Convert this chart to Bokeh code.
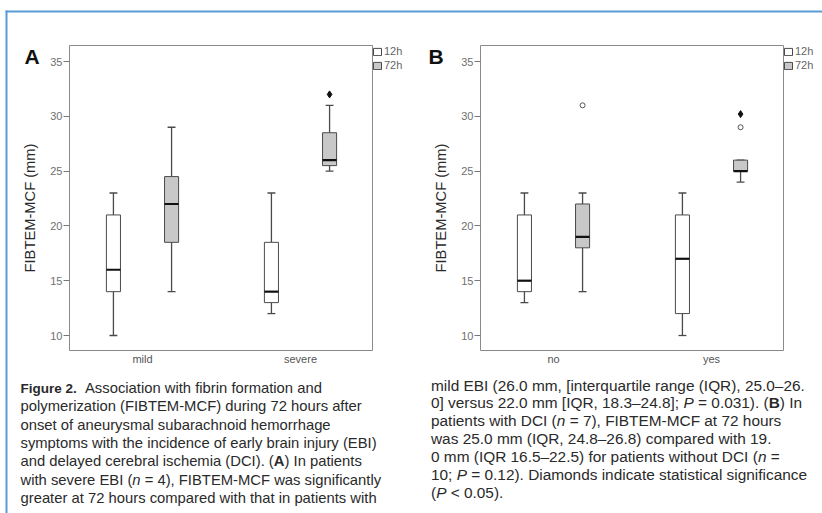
from bokeh.plotting import figure
from bokeh.models import (Range1d, FixedTicker, Legend, LegendItem, LinearAxis,
                          ColumnDataSource)
from bokeh.core.properties import value
from bokeh.embed import file_html
from bokeh.resources import INLINE

FONT = "Liberation Sans"

# ---------------- data ----------------
cats_a = ["mild", "severe"]
a12_low = [10, 12]
a12_q1 = [14, 13]
a12_med = [16, 14]
a12_q3 = [21, 18.5]
a12_high = [23, 23]
a72_low = [14, 25]
a72_q1 = [18.5, 25.5]
a72_med = [22, 26]
a72_q3 = [24.5, 28.5]
a72_high = [29, 31]
a72_outlier_cat = []
a72_outlier_val = []
a72_diamond_cat = [1]
a72_diamond_val = [32]

cats_b = ["no", "yes"]
b12_low = [13, 10]
b12_q1 = [14, 12]
b12_med = [15, 17]
b12_q3 = [21, 21]
b12_high = [23, 23]
b72_low = [14, 24]
b72_q1 = [18, 25]
b72_med = [19, 25]
b72_q3 = [22, 26]
b72_high = [23, 26]
b72_outlier_cat = [0, 1]
b72_outlier_val = [31, 29]
b72_diamond_cat = [1]
b72_diamond_val = [30.2]

y_ticks = [10, 15, 20, 25, 30, 35]
series_labels = ["12h", "72h"]
y_label = "FIBTEM-MCF (mm)"
panel_letters = ["A", "B"]

# ---------------- layout constants (pixels) ----------------
W, H = 822, 513
BLUE = "#5b9bd5"
BOX_LINE = "#4a4a4a"
GRAY_FILL = "#c8c8c8"
EDGE = "#8a8a8a"
BOX_TOP, BOX_BOTTOM = 45, 350
Y35_PX, Y10_PX = 61, 335
PX_PER_Y = (Y10_PX - Y35_PX) / 25.0
PX_PER_X = 158.0
OFF = 0.184
BW = 0.089
CW = 0.05
MID = 0.35   # offset from baseline to the middle of the text box, in em

p = figure(width=W, height=H, output_backend="svg", toolbar_location=None,
           x_range=Range1d(0, W), y_range=Range1d(H, 0),
           x_axis_location=None, y_axis_location=None,
           min_border=0, min_border_left=0, min_border_right=0,
           min_border_top=0, min_border_bottom=0,
           background_fill_color="white", border_fill_color="white")
p.outline_line_color = None
p.xgrid.visible = False
p.ygrid.visible = False


def y_at(Y):
    return 35 - (Y - Y35_PX) / PX_PER_Y


def draw_series(xn, yn, dx, low, q1, med, q3, high, fill):
    x = [i + dx for i in range(len(low))]
    src = ColumnDataSource(dict(
        x=x, low=low, q1=q1, med=med, q3=q3, high=high,
        xl=[v - BW / 2 for v in x], xr=[v + BW / 2 for v in x],
        cl=[v - CW / 2 for v in x], cr=[v + CW / 2 for v in x]))
    kw = dict(source=src, x_range_name=xn, y_range_name=yn)
    p.segment(x0="x", y0="q3", x1="x", y1="high", line_color=BOX_LINE, line_width=1.3, **kw)
    p.segment(x0="x", y0="low", x1="x", y1="q1", line_color=BOX_LINE, line_width=1.3, **kw)
    p.segment(x0="cl", y0="high", x1="cr", y1="high", line_color=BOX_LINE, line_width=1.3, **kw)
    p.segment(x0="cl", y0="low", x1="cr", y1="low", line_color=BOX_LINE, line_width=1.3, **kw)
    r = p.vbar(x="x", width=BW, bottom="q1", top="q3", fill_color=fill,
               line_color=BOX_LINE, line_width=1, **kw)
    p.segment(x0="xl", y0="med", x1="xr", y1="med", line_color="#111111", line_width=2.2, **kw)
    return r


def edge_axis(side, xn, yn, loc, bounds):
    ax = LinearAxis(x_range_name=xn, y_range_name=yn, fixed_location=loc, bounds=bounds,
                    ticker=FixedTicker(ticks=[], minor_ticks=[]),
                    axis_line_color=EDGE, axis_line_width=1,
                    major_tick_line_color=None, minor_tick_line_color=None,
                    major_label_text_alpha=0)
    p.add_layout(ax, side)


def panel(idx, cats, s12, s72, out_cat, out_val, dia_cat, dia_val, box_left, cat0_px):
    box_right = box_left + 303
    xn, yn = f"x{idx}", f"y{idx}"

    def x_at(X):
        return (X - cat0_px) / PX_PER_X

    p.extra_x_ranges[xn] = Range1d(x_at(0), x_at(W))
    p.extra_y_ranges[yn] = Range1d(y_at(H), y_at(0))

    # plot box edges
    edge_axis("left", xn, yn, x_at(box_left), (y_at(BOX_BOTTOM), y_at(BOX_TOP)))
    edge_axis("right", xn, yn, x_at(box_right), (y_at(BOX_BOTTOM), y_at(BOX_TOP)))
    edge_axis("above", xn, yn, y_at(BOX_TOP), (x_at(box_left), x_at(box_right)))

    # value axis
    yax = LinearAxis(x_range_name=xn, y_range_name=yn, fixed_location=x_at(box_left),
                     bounds=(y_at(355), y_at(60)),
                     ticker=FixedTicker(ticks=y_ticks, minor_ticks=[]),
                     axis_line_color=None, major_tick_out=6, major_tick_in=0,
                     major_tick_line_color="#777777", minor_tick_line_color=None,
                     major_label_text_font=FONT, major_label_text_font_size="11px",
                     major_label_text_color="#707070", major_label_standoff=1,
                     axis_label=y_label, axis_label_text_font=FONT,
                     axis_label_text_font_size="14.7px", axis_label_text_font_style="normal",
                     axis_label_text_color="#2a2a2a", axis_label_standoff=9)
    p.add_layout(yax, "left")

    # category axis
    xax = LinearAxis(x_range_name=xn, y_range_name=yn, fixed_location=y_at(BOX_BOTTOM),
                     bounds=(x_at(box_left), x_at(box_right)),
                     ticker=FixedTicker(ticks=list(range(len(cats))), minor_ticks=[]),
                     major_label_overrides={i: c for i, c in enumerate(cats)},
                     axis_line_color=EDGE, major_tick_line_color=None,
                     minor_tick_line_color=None, major_tick_out=0, major_tick_in=0,
                     major_label_standoff=2, major_label_text_font=FONT,
                     major_label_text_font_size="11px", major_label_text_color="#555555")
    p.add_layout(xax, "below")

    r12 = draw_series(xn, yn, -OFF, *s12, "white")
    r72 = draw_series(xn, yn, OFF, *s72, GRAY_FILL)

    if out_cat:
        p.scatter(x=[c + OFF for c in out_cat], y=out_val, marker="circle", size=5,
                  fill_color="white", line_color="#555555", line_width=1,
                  x_range_name=xn, y_range_name=yn)
    if dia_cat:
        p.scatter(x=[c + OFF for c in dia_cat], y=dia_val, marker="diamond", size=7,
                  fill_color="#111111", line_color="#111111",
                  x_range_name=xn, y_range_name=yn)

    legend = Legend(items=[LegendItem(label=series_labels[0], renderers=[r12]),
                           LegendItem(label=series_labels[1], renderers=[r72])],
                    location=(box_right, H - (BOX_TOP + 34) + 7), orientation="vertical",
                    margin=0, padding=3, spacing=0,
                    glyph_width=10, glyph_height=9, label_height=14,
                    label_standoff=2, label_text_font=FONT,
                    label_text_font_size="11px", label_text_color="#666666",
                    border_line_color=None, background_fill_alpha=0)
    p.add_layout(legend)


panel(0, cats_a,
      (a12_low, a12_q1, a12_med, a12_q3, a12_high),
      (a72_low, a72_q1, a72_med, a72_q3, a72_high),
      a72_outlier_cat, a72_outlier_val, a72_diamond_cat, a72_diamond_val,
      box_left=69, cat0_px=142)
panel(1, cats_b,
      (b12_low, b12_q1, b12_med, b12_q3, b12_high),
      (b72_low, b72_q1, b72_med, b72_q3, b72_high),
      b72_outlier_cat, b72_outlier_val, b72_diamond_cat, b72_diamond_val,
      box_left=480, cat0_px=553)

# panel letters (baseline at 63 px)
LETTER_SIZE = 21
p.text(x=[24, 428], y=[63 - MID * LETTER_SIZE] * 2, text=panel_letters, text_font=value(FONT),
       text_font_size=f"{LETTER_SIZE}px", text_font_style="bold", text_color="#111111",
       text_baseline="middle", text_align="left")

# blue frame lines
p.quad(left=[5, 5], right=[7, W], top=[10, 10], bottom=[H, 12],
       fill_color=BLUE, line_color=None)

# ---------------- caption ----------------
W_REG = {' ': 278, 'a': 556, 'b': 556, 'c': 500, 'd': 556, 'e': 556, 'f': 278, 'g': 556,
         'h': 556, 'i': 222, 'j': 222, 'k': 500, 'l': 222, 'm': 833, 'n': 556, 'o': 556,
         'p': 556, 'q': 556, 'r': 333, 's': 500, 't': 278, 'u': 556, 'v': 500, 'w': 722,
         'x': 500, 'y': 500, 'z': 500, 'A': 667, 'B': 667, 'C': 722, 'D': 722, 'E': 667,
         'F': 611, 'G': 778, 'H': 722, 'I': 278, 'J': 500, 'K': 667, 'L': 556, 'M': 833,
         'N': 722, 'O': 778, 'P': 667, 'Q': 778, 'R': 722, 'S': 667, 'T': 611, 'U': 722,
         'V': 667, 'W': 944, 'X': 667, 'Y': 667, 'Z': 611, '.': 278, ',': 278, '(': 333,
         ')': 333, '[': 278, ']': 278, '-': 333, ';': 278, ':': 278, '=': 584, '<': 584,
         '\u2013': 556}
W_BOLD = dict(W_REG)
W_BOLD.update({'A': 722, 'B': 722, 'F': 611, 'i': 278, 'g': 611, 'u': 611, 'r': 389,
               'e': 556, '.': 278})
for d in "0123456789":
    W_REG[d] = 556
    W_BOLD[d] = 556


def text_width(s, style, size):
    table = W_BOLD if style == "bold" else W_REG
    return sum(table.get(ch, 556) for ch in s) / 1000.0 * size


left_lines = [
    [("Figure 2.", "bold", 13.5), ("  Association with fibrin formation and", "normal", None)],
    [("polymerization (FIBTEM-MCF) during 72 hours after", "normal", None)],
    [("onset of aneurysmal subarachnoid hemorrhage", "normal", None)],
    [("symptoms with the incidence of early brain injury (EBI)", "normal", None)],
    [("and delayed cerebral ischemia (DCI). (", "normal", None), ("A", "bold", None),
     (") In patients", "normal", None)],
    [("with severe EBI (", "normal", None), ("n", "italic", None),
     (" = 4), FIBTEM-MCF was significantly", "normal", None)],
    [("greater at 72 hours compared with that in patients with", "normal", None)],
]
right_lines = [
    [("mild EBI (26.0 mm, [interquartile range (IQR), 25.0\u201326.", "normal", None)],
    [("0] versus 22.0 mm [IQR, 18.3\u201324.8]; ", "normal", None), ("P", "italic", None),
     (" = 0.031). (", "normal", None), ("B", "bold", None), (") In", "normal", None)],
    [("patients with DCI (", "normal", None), ("n", "italic", None),
     (" = 7), FIBTEM-MCF at 72 hours", "normal", None)],
    [("was 25.0 mm (IQR, 24.8\u201326.8) compared with 19.", "normal", None)],
    [("0 mm (IQR 16.5\u201322.5) for patients without DCI (", "normal", None),
     ("n", "italic", None), (" =", "normal", None)],
    [("10; ", "normal", None), ("P", "italic", None),
     (" = 0.12). Diamonds indicate statistical significance", "normal", None)],
    [("(", "normal", None), ("P", "italic", None), (" < 0.05).", "normal", None)],
]

segs = {}


def add_block(lines, x0, base0, dy, size):
    for k, line in enumerate(lines):
        x = x0
        base = base0 + k * dy
        for s, style, sz in line:
            sz = sz or size
            stripped = s.lstrip(" ")
            lead = s[:len(s) - len(stripped)]
            x += text_width(lead, style, sz)
            d = segs.setdefault((style, sz), dict(x=[], y=[], text=[]))
            d["x"].append(x)
            d["y"].append(base - MID * sz)
            d["text"].append(stripped)
            x += text_width(stripped, style, sz)


add_block(left_lines, 20, 392.8, 18.33, 14.8)
add_block(right_lines, 430.5, 390.0, 17.85, 15.4)

for (style, sz), d in segs.items():
    p.text(x="x", y="y", text="text", source=ColumnDataSource(d),
           text_font=value(FONT), text_font_size=f"{sz}px",
           text_font_style=style, text_color="#2a2a2a",
           text_baseline="middle", text_align="left")

open("out.html", "w").write(file_html(p, INLINE))
